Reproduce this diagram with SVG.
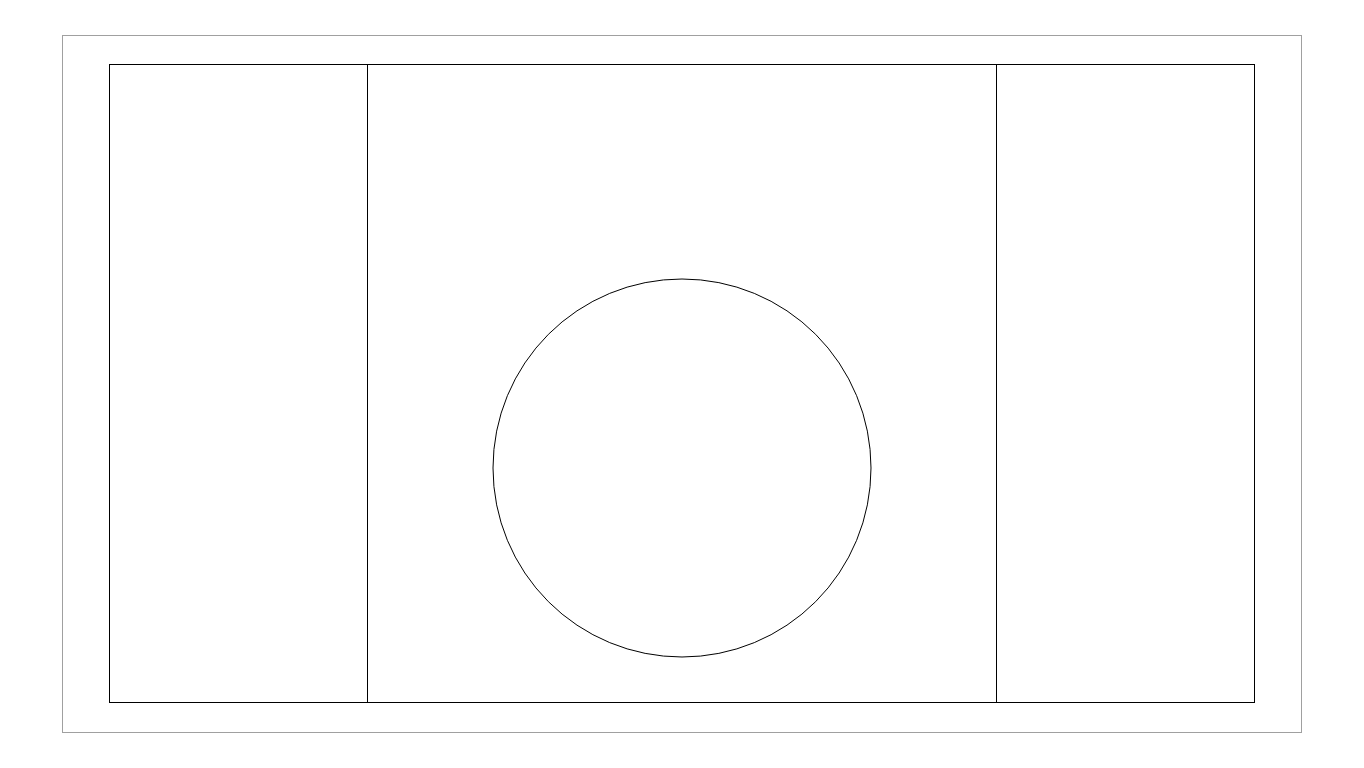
<svg xmlns="http://www.w3.org/2000/svg" width="1364" height="768" viewBox="0 0 1364 768">
<style>
.frame{fill:none;stroke:#a0a0a0;stroke-width:1}
.ln{fill:none;stroke:#000;stroke-width:1}
</style>
<rect width="1364" height="768" fill="#fff"/>
<rect class="frame" x="62.5" y="35.5" width="1239" height="697"/>
<g id="court">
<rect class="ln" x="109.5" y="64.5" width="1145" height="638"/>
<line class="ln" x1="367.5" y1="64.5" x2="367.5" y2="702.5"/>
<line class="ln" x1="996.5" y1="64.5" x2="996.5" y2="702.5"/>
<circle class="ln" cx="682" cy="468" r="189"/>
</g>
</svg>
